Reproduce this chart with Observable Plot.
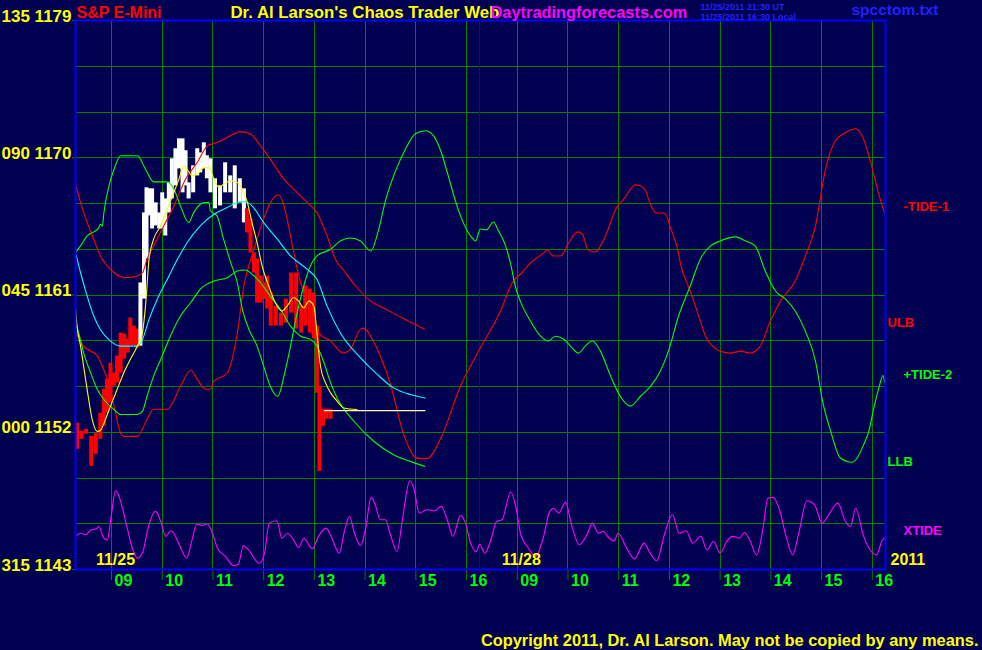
<!DOCTYPE html>
<html><head><meta charset="utf-8">
<script src="https://cdn.jsdelivr.net/npm/d3@7"></script>
<script src="https://cdn.jsdelivr.net/npm/@observablehq/plot@0.6"></script>
<style>
html,body{margin:0;padding:0;background:#000050;}
#chart svg{display:block;}
</style></head><body><div id="chart"></div>
<script>
// ---- axes / ticks (x in session hours: day1 09:00 = 9, day2 09:00 = 17) ----
const hourTicks = [9,10,11,12,13,14,15,16,17,18,19,20,21,22,23,24];
const hourLabels = ["09","10","11","12","13","14","15","16","09","10","11","12","13","14","15","16"];
const sessionBreaks = [16.25];
const dateLabels = ["11/25","11/28"];
const dateX = [9, 17];
const yearLabel = "2011";
const gridPrices = [1143,1146,1149,1152,1155,1158,1161,1164,1167,1170,1173,1176,1179];
const yTickPrices = [1179,1170,1161,1152,1143];
const yTickAngles = ["135","090","045","000","315"];

// ---- price bars ----
const barH = [8.32,8.41,8.50,8.60,8.69,8.78,8.85,8.91,8.98,9.05,9.11,9.18,9.25,9.32,9.37,9.44,9.50,
  9.57,9.64,9.69,9.74,9.80,9.87,9.94,10.00,10.06,10.13,10.19,10.26,10.33,10.40,10.46,10.52,10.61,10.69,10.75,10.82,10.88,10.95,11.04,11.14,11.24,11.34,11.43,11.53,11.61,
  11.67,11.74,11.81,11.87,11.94,12.01,12.07,12.14,12.24,12.34,12.44,12.54,12.64,12.74,12.82,12.91,12.99,13.05,13.10,13.17,13.24,13.32];
const barHigh = [1152.59,1152.06,1152.19,1151.73,1151.93,1153.25,1154.82,1155.48,1156.53,1155.87,1156.99,1158.50,1158.44,1158.11,1159.49,1158.96,1158.76,
  1161.79,1166.38,1168.03,1167.96,1167.96,1167.04,1166.38,1167.70,1167.30,1168.35,1169.93,1170.59,1171.24,1171.24,1170.46,1168.35,1169.47,1170.59,1170.32,1170.98,1170.13,1169.93,1168.62,1168.16,1169.67,1168.81,1169.47,1168.62,1167.96,
  1166.65,1165.99,1163.76,1163.36,1162.24,1161.79,1162.24,1161.13,1160.27,1159.81,1160.73,1162.44,1162.44,1160.27,1161.59,1161.39,1161.13,1158.96,1155.02,1153.51,1153.51,1153.51];
const barLow = [1150.88,1151.54,1151.87,1149.76,1150.55,1151.54,1152.39,1153.25,1153.90,1155.02,1155.22,1155.87,1156.79,1157.19,1157.65,1157.65,1157.52,
  1157.65,1160.73,1163.36,1166.19,1165.33,1165.53,1165.33,1165.33,1164.87,1166.38,1167.30,1168.16,1169.27,1167.70,1168.16,1167.30,1167.70,1168.81,1169.01,1169.27,1168.62,1167.70,1166.65,1166.84,1167.70,1167.70,1166.65,1167.04,1165.73,
  1165.07,1163.76,1162.44,1160.47,1160.47,1160.73,1160.08,1158.96,1158.96,1158.96,1159.16,1159.81,1158.76,1158.50,1158.96,1158.50,1158.11,1154.56,1149.43,1152.39,1152.85,1152.85];
const barSide = "ddddddddddddddddduuuuuuuuuuuuuuuuuuuuuuuuuuuuuddddddddddddddddddddd".split("");
const lastPriceH = [13.20, 15.18];
const lastPrice = 1153.42;

// ---- fast moving average (yellow) ----
const maH = [8.29,8.32,8.39,8.45,8.52,8.62,8.72,8.78,8.88,8.98,9.11,9.24,9.37,9.51,9.61,9.67,9.74,9.83,9.97,10.10,10.23,10.33,10.43,10.49,10.59,10.72,10.82,10.92,11.02,11.12,11.21,11.35,11.48,11.58,11.68,11.77,11.87,11.97,12.10,12.23,12.36,12.46,12.59,12.69,12.79,12.89,12.99,13.05,13.12,13.22,13.32,13.45,13.58,13.84];
const maP = [1160.16,1158.96,1157.65,1156.33,1154.80,1152.83,1152.06,1152.13,1152.83,1153.71,1154.80,1155.89,1156.77,1157.65,1158.52,1160.27,1163.34,1164.66,1165.53,1166.63,1167.72,1168.60,1169.47,1169.25,1168.81,1169.03,1169.36,1169.36,1168.60,1168.05,1168.27,1168.49,1168.37,1167.94,1167.06,1165.75,1164.43,1162.90,1161.59,1160.49,1159.95,1160.27,1160.82,1160.60,1160.16,1160.60,1160.27,1158.52,1156.33,1155.24,1154.58,1154.03,1153.59,1153.49];

// ---- slow moving average (cyan) ----
const cyanH = [8.29,8.39,8.52,8.65,8.78,8.98,9.18,9.51,9.61,9.74,9.90,10.10,10.30,10.49,10.75,11.02,11.28,11.54,11.64,11.77,12.00,12.27,12.53,12.86,13.05,13.25,13.51,13.91,14.24,14.56,14.89,15.18];
const cyanP = [1163.78,1162.46,1160.93,1159.62,1158.74,1157.98,1157.65,1157.65,1158.09,1159.40,1160.71,1162.03,1163.34,1164.43,1165.53,1166.30,1166.73,1167.11,1167.11,1166.84,1165.75,1164.66,1163.56,1162.68,1162.03,1160.27,1158.52,1156.88,1155.79,1154.91,1154.47,1154.25];

// ---- ULB (red) ----
const ulbH = [8.29,8.39,8.52,8.65,8.78,8.92,9.05,9.28,9.51,9.61,9.70,9.83,10.03,10.23,10.46,10.69,10.89,11.08,11.28,11.54,11.74,11.94,12.13,12.40,12.66,12.86,13.05,13.25,13.45,13.51,13.81,14.11,14.40,14.70,14.93,15.17];
const ulbP = [1168.27,1167.06,1165.75,1164.66,1163.56,1162.90,1162.46,1162.13,1162.25,1162.46,1163.34,1164.22,1165.53,1166.84,1168.60,1169.69,1170.78,1171.00,1171.33,1171.70,1171.55,1170.78,1169.91,1168.60,1167.72,1167.06,1166.40,1164.87,1163.12,1162.90,1161.59,1160.60,1160.08,1159.55,1159.16,1158.76];

// ---- LLB (green) ----
const llbH = [8.31,8.36,8.45,8.59,8.72,8.85,9.05,9.18,9.51,9.61,9.70,9.83,9.97,10.16,10.36,10.56,10.75,11.02,11.28,11.48,11.64,11.77,11.94,12.13,12.33,12.53,12.73,12.92,13.05,13.19,13.32,13.45,13.78,14.17,14.56,14.89,15.18];
const llbP = [1158.96,1158.42,1157.21,1155.89,1154.80,1154.15,1153.49,1153.16,1153.16,1153.38,1154.36,1155.68,1156.77,1158.30,1159.62,1160.49,1161.37,1161.92,1162.13,1162.57,1162.64,1162.36,1161.80,1160.93,1160.06,1158.96,1158.30,1158.09,1157.65,1156.55,1155.24,1154.23,1152.72,1151.41,1150.53,1150.09,1149.76];

// ---- -TIDE-1 (red) ----
const tide1H = [8.31,8.45,8.72,8.82,8.92,9.05,9.18,9.24,9.51,9.70,9.83,10.10,10.36,10.56,10.69,10.85,10.95,11.02,11.28,11.48,11.61,11.81,12.00,12.13,12.30,12.40,12.53,12.66,12.79,12.92,13.09,13.32,13.57,13.71,13.91,13.97,14.16,14.34,14.50,14.76,15.03,15.23,15.49,15.88,16.27,16.67,16.90,17.12,17.20,17.52,17.59,17.71,17.85,18.01,18.19,18.28,18.40,18.54,18.64,18.78,18.90,18.97,19.09,19.33,19.43,19.53,19.63,19.74,19.86,19.92,20.02,20.16,20.22,20.41,20.61,20.71,20.85,21.00,21.20,21.40,21.59,21.79,21.99,22.19,22.48,22.68,22.88,23.07,23.27,23.47,23.66,23.80,23.96,24.12,24.24];
const tide1P = [1158.44,1157.65,1156.99,1156.33,1155.48,1153.71,1151.93,1151.73,1151.73,1152.85,1153.51,1153.51,1155.02,1156.07,1155.48,1154.82,1154.82,1155.35,1155.87,1158.50,1161.59,1164.02,1165.99,1167.04,1167.57,1166.84,1164.87,1162.71,1161.13,1159.81,1158.50,1157.98,1157.19,1157.45,1158.76,1158.83,1157.98,1156.66,1155.15,1151.87,1150.29,1150.29,1151.60,1155.02,1157.52,1159.95,1161.79,1162.57,1162.90,1163.76,1163.95,1163.56,1163.56,1164.41,1165.14,1165.00,1163.95,1163.82,1164.22,1165.20,1166.32,1166.78,1167.24,1168.22,1168.16,1167.83,1166.91,1166.38,1166.38,1166.32,1165.40,1164.02,1163.03,1161.26,1159.29,1158.30,1157.65,1157.32,1157.19,1157.32,1157.19,1157.65,1159.29,1160.60,1161.92,1163.56,1165.53,1169.14,1171.11,1171.64,1171.90,1171.44,1169.80,1167.70,1166.38];

// ---- +TIDE-2 (green) ----
const tide2H = [8.29,8.39,8.52,8.65,8.75,8.78,8.82,8.85,8.95,9.05,9.18,9.51,9.67,9.83,10.10,10.23,10.36,10.52,10.62,10.82,10.92,10.95,11.08,11.21,11.35,11.48,11.58,11.71,11.87,12.00,12.13,12.28,12.40,12.53,12.66,12.79,12.92,13.05,13.32,13.51,13.71,13.91,14.11,14.26,14.40,14.60,14.80,14.99,15.19,15.35,15.49,15.64,15.78,15.92,16.08,16.18,16.27,16.39,16.53,16.63,16.77,16.87,16.96,17.06,17.26,17.46,17.61,17.75,17.91,18.05,18.21,18.34,18.48,18.64,18.84,19.03,19.23,19.43,19.63,19.82,19.98,20.18,20.41,20.61,20.81,21.00,21.30,21.50,21.69,21.89,22.09,22.29,22.48,22.68,22.88,23.02,23.18,23.37,23.60,23.70,23.83,23.93,24.03,24.13,24.21,24.24];
const tide2P = [1163.78,1164.22,1164.87,1165.14,1165.42,1165.64,1165.53,1166.40,1168.16,1169.25,1170.13,1170.13,1169.25,1168.42,1168.42,1167.94,1166.84,1165.75,1166.40,1167.06,1167.06,1166.52,1166.19,1164.66,1163.12,1161.81,1160.06,1158.74,1157.65,1156.33,1155.02,1154.36,1155.68,1157.65,1159.83,1161.59,1162.90,1163.56,1164.00,1164.54,1164.74,1164.54,1163.89,1165.20,1167.17,1169.14,1170.59,1171.57,1171.77,1171.44,1170.46,1168.81,1167.17,1165.86,1164.87,1164.54,1165.33,1165.27,1165.79,1165.20,1164.22,1163.03,1161.59,1160.60,1159.29,1158.30,1157.98,1158.30,1158.11,1157.65,1157.19,1157.65,1157.98,1157.32,1155.68,1154.36,1153.71,1154.36,1155.02,1156.00,1157.32,1159.62,1161.59,1163.36,1164.22,1164.54,1164.81,1164.54,1164.22,1162.57,1161.26,1160.73,1159.95,1158.63,1156.66,1154.03,1152.06,1150.31,1150.03,1150.31,1151.19,1152.06,1153.59,1154.91,1155.72,1155.28];

// ---- XTIDE (magenta) ----
const xtideH = [8.29,8.39,8.49,8.60,8.70,8.75,8.85,8.92,8.98,9.08,9.16,9.31,9.41,9.51,9.62,9.72,9.87,9.97,10.07,10.17,10.28,10.38,10.48,10.58,10.68,10.79,10.89,10.99,11.09,11.25,11.40,11.50,11.60,11.70,11.91,12.01,12.11,12.26,12.36,12.47,12.57,12.69,12.79,12.96,13.08,13.23,13.33,13.49,13.59,13.69,13.79,13.91,14.01,14.12,14.20,14.30,14.40,14.50,14.63,14.73,14.88,14.96,15.07,15.22,15.37,15.50,15.63,15.73,15.88,15.98,16.08,16.19,16.26,16.36,16.49,16.59,16.70,16.87,16.97,17.07,17.20,17.36,17.51,17.64,17.71,17.82,17.95,18.07,18.22,18.38,18.48,18.60,18.70,18.78,18.91,18.99,19.14,19.31,19.50,19.62,19.75,19.90,20.06,20.19,20.33,20.46,20.62,20.74,20.87,21.00,21.13,21.25,21.38,21.48,21.58,21.72,21.84,21.94,22.04,22.17,22.30,22.43,22.55,22.71,22.86,23.01,23.14,23.32,23.47,23.57,23.67,23.83,23.98,24.08,24.20,24.26];
const xtideP = [1145.17,1145.38,1145.28,1145.61,1145.67,1145.82,1145.05,1144.95,1146.15,1148.17,1147.68,1145.71,1144.40,1143.74,1144.18,1145.71,1146.81,1146.15,1145.17,1145.54,1145.05,1144.29,1143.74,1144.84,1145.97,1145.89,1146.00,1145.38,1144.40,1143.85,1143.26,1143.35,1144.57,1144.29,1143.41,1143.96,1146.04,1146.20,1145.05,1145.38,1145.05,1144.44,1145.05,1144.36,1145.17,1145.71,1145.17,1144.07,1145.49,1146.48,1145.38,1144.57,1145.71,1147.73,1147.25,1146.26,1146.26,1145.28,1144.18,1146.15,1148.82,1148.34,1146.70,1146.92,1146.85,1147.14,1146.15,1145.17,1146.53,1146.04,1144.73,1144.18,1144.66,1144.07,1145.05,1146.15,1146.26,1148.08,1147.14,1145.28,1144.51,1143.85,1145.05,1146.81,1147.02,1146.70,1147.42,1145.93,1144.62,1145.32,1146.04,1145.38,1145.49,1145.17,1144.88,1145.38,1144.51,1143.70,1144.73,1144.07,1143.57,1145.28,1146.59,1145.38,1145.54,1144.73,1145.17,1144.29,1144.84,1144.07,1144.84,1145.17,1145.05,1145.43,1144.95,1143.96,1145.61,1147.68,1147.73,1146.92,1145.17,1143.96,1145.38,1147.51,1147.25,1146.04,1146.59,1147.35,1146.15,1145.82,1147.02,1145.17,1144.18,1143.96,1144.95,1145.10];

// ---- right-side labels ----
const boundLabels = ["ULB","LLB"];
const boundLabelP = [1159.19, 1150.09];
const tideLabels = ["-TIDE-1","+TIDE-2","XTIDE"];
const tideLabelP = [1166.78, 1155.74, 1145.56];

// ---- titles ----
const titleSymbol = "S&P E-Mini";
const titleMain = "Dr. Al Larson's Chaos Trader Web";
const titleSite = "Daytradingforecasts.com";
const stampUT = "11/25/2011 21:30 UT";
const stampLocal = "11/25/2011 16:30 Local";
const fileName = "spcctom.txt";
const copyright = "Copyright 2011, Dr. Al Larson. May not be copied by any means.";

// ---- build tables ----
const series = (H, P) => H.map((h, i) => ({h, p: P[i]}));
const bars = barH.map((h, i) => ({h, hi: barHigh[i], lo: barLow[i], side: barSide[i]}));
const lastLine = lastPriceH.map(h => ({h, p: lastPrice}));

const RED = "#ff0000", GREEN = "#00ff00", CYAN = "#00ffff", YELLOW = "#ffff00", MAGENTA = "#ff00ff", BLUE = "#2020ff";
const FONT = "'Liberation Sans', Arial, Helvetica, sans-serif";
const line = (H, P, stroke) => Plot.line(series(H, P), {x: "h", y: "p", stroke, strokeWidth: 1.1, curve: "monotone-x"});
const label = (extra) => Object.assign({fontWeight: "bold"}, extra);

const chart = Plot.plot({
  width: 982, height: 650,
  marginTop: 20, marginRight: 97, marginBottom: 81, marginLeft: 75,
  style: {background: "#000050", fontFamily: FONT, overflow: "visible"},
  x: {domain: [8.29, 24.26], axis: null},
  y: {domain: [1143, 1179], axis: null},
  color: {type: "identity"},
  marks: [
    Plot.ruleY(gridPrices, {y: d => d, stroke: "#008000", strokeWidth: 1, shapeRendering: "crispEdges"}),
    Plot.ruleX(hourTicks, {x: d => d, stroke: "#008000", strokeWidth: 1, shapeRendering: "crispEdges"}),
    Plot.ruleX(sessionBreaks, {x: d => d, stroke: "#0000ff", strokeWidth: 1, shapeRendering: "crispEdges"}),
    Plot.axisX({ticks: hourTicks, tickSize: 11, stroke: "#008000", tickFormat: () => "", label: null}),
    Plot.axisY({ticks: yTickPrices, tickSize: 3, stroke: "#008000", tickFormat: () => "", label: null}),

    Plot.ruleX(bars, {x: "h", y1: "lo", y2: "hi", stroke: d => d.side === "u" ? "#ffffff" : RED, strokeWidth: 4}),

    line(tide1H, tide1P, RED),
    line(ulbH, ulbP, RED),
    line(tide2H, tide2P, GREEN),
    line(llbH, llbP, GREEN),
    line(cyanH, cyanP, CYAN),
    Plot.line(lastLine, {x: "h", y: "p", stroke: "#ffffb0", strokeWidth: 1.2}),
    line(maH, maP, YELLOW),
    line(xtideH, xtideP, MAGENTA),

    Plot.frame({stroke: "#0000ff", strokeWidth: 2}),

    // left price/angle labels
    Plot.text(yTickPrices, label({y: d => d, text: (d, i) => yTickAngles[i] + " " + d, frameAnchor: "left", textAnchor: "end", lineAnchor: "bottom", dx: -4, dy: 1, fill: YELLOW, fontSize: 17})),
    // hour labels
    Plot.text(hourTicks, label({x: d => d, text: (d, i) => hourLabels[i], frameAnchor: "bottom", textAnchor: "start", lineAnchor: "middle", dx: 3, dy: 11, fill: GREEN, fontSize: 16})),
    // date labels
    Plot.text(dateLabels, label({x: (d, i) => dateX[i], text: d => d, frameAnchor: "bottom", textAnchor: "middle", lineAnchor: "middle", dx: 4, dy: -10, fill: YELLOW, fontSize: 16})),
    Plot.text([yearLabel], label({text: d => d, frameAnchor: "bottom-right", textAnchor: "start", lineAnchor: "middle", dx: 5, dy: -10, fill: YELLOW, fontSize: 16})),
    // right labels
    Plot.text(boundLabels, label({y: (d, i) => boundLabelP[i], text: d => d, frameAnchor: "right", textAnchor: "start", lineAnchor: "middle", dx: 2, fill: (d, i) => [RED, GREEN][i], fontSize: 13})),
    Plot.text(tideLabels, label({y: (d, i) => tideLabelP[i], text: d => d, frameAnchor: "right", textAnchor: "start", lineAnchor: "middle", dx: 18, fill: (d, i) => [RED, GREEN, MAGENTA][i], fontSize: 13})),
    // titles
    Plot.text([titleSymbol], label({text: d => d, frameAnchor: "top-left", textAnchor: "start", lineAnchor: "bottom", dx: 1, dy: -3, fill: RED, fontSize: 16})),
    Plot.text([titleMain], label({text: d => d, frameAnchor: "top-left", textAnchor: "start", lineAnchor: "bottom", dx: 155, dy: -3, fill: YELLOW, fontSize: 16.8})),
    Plot.text([titleSite], label({text: d => d, frameAnchor: "top-left", textAnchor: "start", lineAnchor: "bottom", dx: 415, dy: -3, fill: MAGENTA, fontSize: 16.4})),
    Plot.text([stampUT], label({text: d => d, frameAnchor: "top-left", textAnchor: "start", lineAnchor: "bottom", dx: 625, dy: -11, fill: BLUE, fontSize: 9, letterSpacing: "0.4px"})),
    Plot.text([stampLocal], label({text: d => d, frameAnchor: "top-left", textAnchor: "start", lineAnchor: "bottom", dx: 625, dy: -1, fill: BLUE, fontSize: 9, letterSpacing: "0.4px"})),
    Plot.text([fileName], label({text: d => d, frameAnchor: "top-left", textAnchor: "start", lineAnchor: "bottom", dx: 776, dy: -6, fill: BLUE, fontSize: 15.5})),
    Plot.text([copyright], label({text: d => d, frameAnchor: "bottom-right", textAnchor: "end", lineAnchor: "bottom", dx: 93, dy: 76, fill: YELLOW, fontSize: 16.4}))
  ]
});
document.getElementById("chart").appendChild(chart);
</script></body></html>
